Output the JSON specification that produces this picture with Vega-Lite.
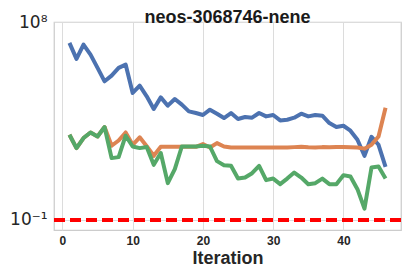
{
  "$schema": "https://vega.github.io/schema/vega-lite/v6.json",
  "width": 347,
  "height": 208,
  "autosize": {"type": "none"},
  "padding": {"left": 54, "top": 22, "right": 7, "bottom": 42},
  "background": "white",
  "title": {"text": "neos-3068746-nene", "font": "Liberation Sans", "fontSize": 18, "fontWeight": "bold", "color": "#1a1a1a", "anchor": "middle", "baseline": "alphabetic", "offset": -16, "dy": 12},
  "data": {"values": [
    {"it":1,"s":"A","v":1.13e7},{"it":2,"s":"A","v":2.11e6},{"it":3,"s":"A","v":9.46e6},{"it":4,"s":"A","v":3.31e6},{"it":5,"s":"A","v":8.2e5},{"it":6,"s":"A","v":2.01e5},{"it":7,"s":"A","v":3.66e5},{"it":8,"s":"A","v":8.2e5},{"it":9,"s":"A","v":1.16e6},{"it":10,"s":"A","v":5.96e4},
    {"it":11,"s":"A","v":1.28e5},{"it":12,"s":"A","v":4.17e4},{"it":13,"s":"A","v":1.11e4},{"it":14,"s":"A","v":3.75e4},{"it":15,"s":"A","v":1.57e4},{"it":16,"s":"A","v":3.17e4},{"it":17,"s":"A","v":1.75e4},{"it":18,"s":"A","v":8630},{"it":19,"s":"A","v":7290},{"it":20,"s":"A","v":5920},
    {"it":21,"s":"A","v":1.03e4},{"it":22,"s":"A","v":6780},{"it":23,"s":"A","v":4320},{"it":24,"s":"A","v":7290},{"it":25,"s":"A","v":3890},{"it":26,"s":"A","v":4800},{"it":27,"s":"A","v":4460},{"it":28,"s":"A","v":7290},{"it":29,"s":"A","v":5110},{"it":30,"s":"A","v":5920},
    {"it":31,"s":"A","v":3360},{"it":32,"s":"A","v":3610},{"it":33,"s":"A","v":4460},{"it":34,"s":"A","v":6780},{"it":35,"s":"A","v":5110},{"it":36,"s":"A","v":5920},{"it":37,"s":"A","v":5500},{"it":38,"s":"A","v":2550},{"it":39,"s":"A","v":1680},{"it":40,"s":"A","v":1920},
    {"it":41,"s":"A","v":1140},{"it":42,"s":"A","v":443},{"it":43,"s":"A","v":82.6},{"it":44,"s":"A","v":607},{"it":45,"s":"A","v":262},{"it":46,"s":"A","v":26.1},
    {"it":1,"s":"B","v":748},{"it":2,"s":"B","v":185},{"it":3,"s":"B","v":530},{"it":4,"s":"B","v":953},{"it":5,"s":"B","v":627},{"it":6,"s":"B","v":1680},{"it":7,"s":"B","v":236},{"it":8,"s":"B","v":411},{"it":9,"s":"B","v":953},{"it":10,"s":"B","v":262},
    {"it":11,"s":"B","v":575},{"it":12,"s":"B","v":224},{"it":13,"s":"B","v":82.6},{"it":14,"s":"B","v":212},{"it":15,"s":"B","v":212},{"it":16,"s":"B","v":212},{"it":17,"s":"B","v":212},{"it":18,"s":"B","v":212},{"it":19,"s":"B","v":212},{"it":20,"s":"B","v":282},
    {"it":21,"s":"B","v":197},{"it":22,"s":"B","v":313},{"it":23,"s":"B","v":219},{"it":24,"s":"B","v":197},{"it":25,"s":"B","v":197},{"it":26,"s":"B","v":197},{"it":27,"s":"B","v":197},{"it":28,"s":"B","v":197},{"it":29,"s":"B","v":197},{"it":30,"s":"B","v":197},
    {"it":31,"s":"B","v":197},{"it":32,"s":"B","v":197},{"it":33,"s":"B","v":205},{"it":34,"s":"B","v":215},{"it":35,"s":"B","v":200},{"it":36,"s":"B","v":197},{"it":37,"s":"B","v":205},{"it":38,"s":"B","v":200},{"it":39,"s":"B","v":205},{"it":40,"s":"B","v":205},
    {"it":41,"s":"B","v":200},{"it":42,"s":"B","v":197},{"it":43,"s":"B","v":175},{"it":44,"s":"B","v":262},{"it":45,"s":"B","v":627},{"it":46,"s":"B","v":12700},
    {"it":1,"s":"C","v":748},{"it":2,"s":"C","v":185},{"it":3,"s":"C","v":530},{"it":4,"s":"C","v":953},{"it":5,"s":"C","v":627},{"it":6,"s":"C","v":1680},{"it":7,"s":"C","v":64.9},{"it":8,"s":"C","v":72.1},{"it":9,"s":"C","v":675},{"it":10,"s":"C","v":219},
    {"it":11,"s":"C","v":185},{"it":12,"s":"C","v":206},{"it":13,"s":"C","v":32.1},{"it":14,"s":"C","v":110},{"it":15,"s":"C","v":4.71},{"it":16,"s":"C","v":20.5},{"it":17,"s":"C","v":219},{"it":18,"s":"C","v":219},{"it":19,"s":"C","v":219},{"it":20,"s":"C","v":236},
    {"it":21,"s":"C","v":219},{"it":22,"s":"C","v":47.3},{"it":23,"s":"C","v":31.1},{"it":24,"s":"C","v":28.9},{"it":25,"s":"C","v":7.62},{"it":26,"s":"C","v":8.47},{"it":27,"s":"C","v":13.4},{"it":28,"s":"C","v":28.9},{"it":29,"s":"C","v":6.45},{"it":30,"s":"C","v":7.62},
    {"it":31,"s":"C","v":4.24},{"it":32,"s":"C","v":7.62},{"it":33,"s":"C","v":14.3},{"it":34,"s":"C","v":8.47},{"it":35,"s":"C","v":4.24},{"it":36,"s":"C","v":4.71},{"it":37,"s":"C","v":7.62},{"it":38,"s":"C","v":4.24},{"it":39,"s":"C","v":4.24},{"it":40,"s":"C","v":10.9},
    {"it":41,"s":"C","v":9.42},{"it":42,"s":"C","v":2.51},{"it":43,"s":"C","v":0.327},{"it":44,"s":"C","v":24.2},{"it":45,"s":"C","v":26.9},{"it":46,"s":"C","v":7.62}
  ]},
  "encoding": {
    "x": {"field": "it", "type": "quantitative",
      "scale": {"domain": [-1.2, 48.2], "nice": false, "zero": false},
      "axis": {"values": [0, 10, 20, 30, 40], "title": "Iteration", "grid": true, "gridColor": "#dcdcdc", "gridWidth": 1,
        "domain": false, "ticks": false, "labelPadding": 5, "labelFont": "Liberation Sans", "labelFontSize": 12, "labelFontWeight": "bold", "labelColor": "#262626",
        "titleFont": "Liberation Sans", "titleFontSize": 18, "titleFontWeight": "bold", "titleColor": "#262626", "titlePadding": 3}},
    "y": {"field": "v", "type": "quantitative",
      "scale": {"type": "log", "domain": [0.035, 1e8], "nice": false},
      "axis": {"values": [0.1, 100000000], "title": null, "grid": true, "gridColor": "#dcdcdc", "domain": false, "ticks": false,
        "labelPadding": 7, "labelFont": "DejaVu Sans", "labelFontSize": 17, "labelColor": "#262626",
        "labelExpr": "datum.value > 1 ? '10⁸' : '10⁻¹'"}}
  },
  "layer": [
    {"transform": [{"filter": "datum.s === 'A'"}], "mark": {"type": "line", "color": "#4C72B0", "strokeWidth": 4, "strokeJoin": "round"}},
    {"transform": [{"filter": "datum.s === 'B'"}], "mark": {"type": "line", "color": "#DD8452", "strokeWidth": 4, "strokeJoin": "round"}},
    {"transform": [{"filter": "datum.s === 'C'"}], "mark": {"type": "line", "color": "#55A868", "strokeWidth": 4, "strokeJoin": "round"}},
    {"mark": {"type": "rule", "color": "#ff0000", "strokeWidth": 3, "strokeDash": [11, 5]},
     "encoding": {"y": {"datum": 0.1}, "x": null}}
  ],
  "config": {"view": {"stroke": "#cccccc", "strokeWidth": 1.25}}
}
